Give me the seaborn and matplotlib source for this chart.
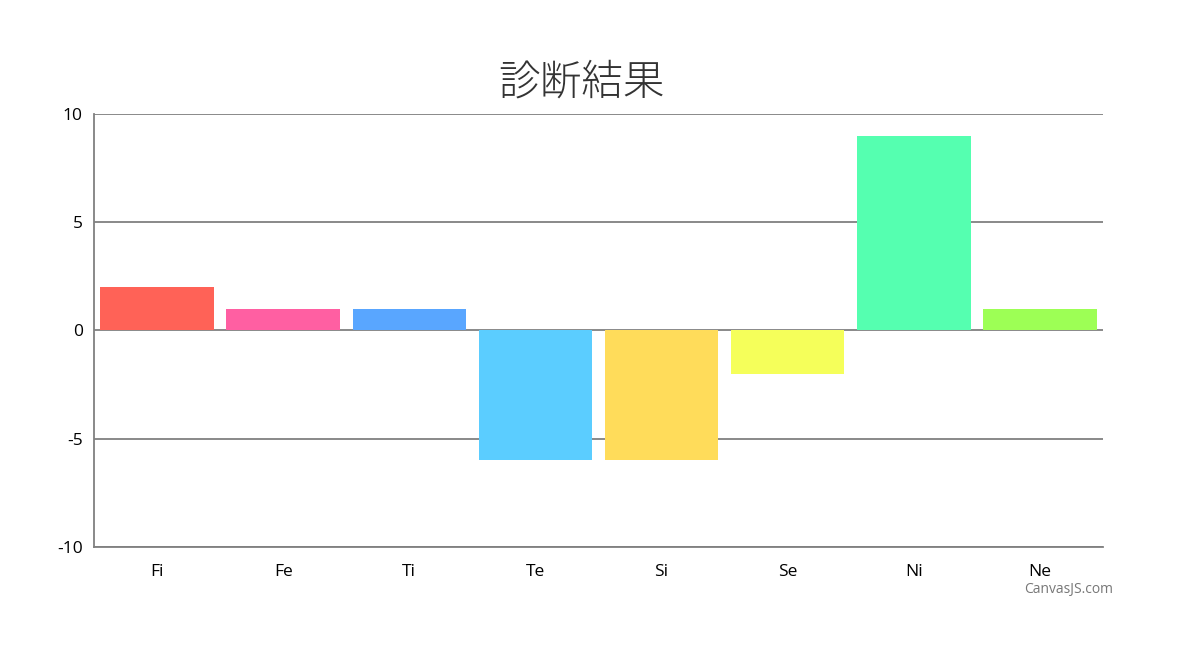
import matplotlib
matplotlib.use("Agg")
import matplotlib.pyplot as plt
import pandas as pd
import seaborn as sns

# data
categories = ["Fi", "Fe", "Ti", "Te", "Si", "Se", "Ni", "Ne"]
values = [2, 1, 1, -6, -6, -2, 9, 1]
colors = ["#FF6257", "#FF5FA2", "#59A6FF", "#5BCDFF",
          "#FFDC5A", "#F5FF5A", "#55FFB0", "#9DFF55"]
yticks = [-10, -5, 0, 5, 10]
title = "診断結果"

sns.set_style("white")
plt.rcParams["font.family"] = ["Open Sans", "Noto Sans CJK JP", "DejaVu Sans"]

df = pd.DataFrame({"cat": categories, "val": values})

fig = plt.figure(figsize=(12, 6.46), dpi=100)
ax = fig.add_axes([0.0783, 0.1533, 0.8409, 0.6702])

sns.barplot(data=df, x="cat", y="val", hue="cat", palette=colors,
            width=0.9, saturation=1, legend=False, ax=ax, zorder=3,
            linewidth=0)

ax.set_ylim(-10, 10)
ax.set_xlim(-0.5, len(categories) - 0.5)
ax.set_yticks(yticks)
ax.set_yticklabels([str(v) for v in yticks], fontsize=12.5, color="#000000")
ax.tick_params(axis="x", labelsize=12.5, length=5, color="#808080",
               pad=7, width=1, labelcolor="#000000")
ax.tick_params(axis="y", length=5, color="#808080", pad=3, width=1)
ax.set_xlabel("")
ax.set_ylabel("")

for v in yticks:
    ax.axhline(v, color="#808080", lw=1.3, zorder=1)

for side in ["top", "right"]:
    ax.spines[side].set_visible(False)
for side in ["left", "bottom"]:
    ax.spines[side].set_color("#808080")
    ax.spines[side].set_linewidth(1.3)

fig.text(0.485, 0.872, title, ha="center", va="center", fontsize=30,
         color="#333333", weight="light",
         family=["Noto Sans CJK JP", "DejaVu Sans"])
fig.text(0.928, 0.087, "CanvasJS.com", ha="right", va="center",
         fontsize=10, color="#777777")

fig.savefig("out.png", dpi=100, facecolor="white")
